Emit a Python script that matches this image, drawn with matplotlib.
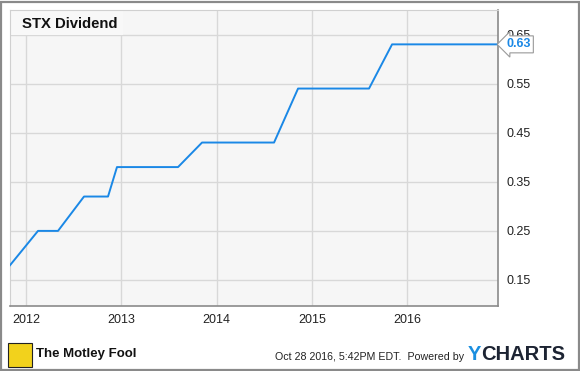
import matplotlib.pyplot as plt
from matplotlib.patches import Rectangle

plt.rcParams['font.family'] = ['Liberation Sans', 'DejaVu Sans']

# STX dividend (quarterly, USD)
years = [2011.832, 2012.126, 2012.336, 2012.609, 2012.861, 2012.955, 2013.596,
         2013.848, 2014.604, 2014.856, 2015.601, 2015.843, 2016.955]
dividend = [0.18, 0.25, 0.25, 0.32, 0.32, 0.38, 0.38,
            0.43, 0.43, 0.54, 0.54, 0.63, 0.63]
xticks = [2012, 2013, 2014, 2015, 2016]
yticks = [0.15, 0.25, 0.35, 0.45, 0.55, 0.65]

line_color = '#1a88e6'
W, H = 580, 371

fig = plt.figure(figsize=(5.8, 3.71), dpi=100)
fig.patch.set_facecolor('white')
fig.patches.append(Rectangle((1 / W, 1 / H), 1 - 2.5 / W, 1 - 2.5 / H, transform=fig.transFigure,
                             fill=False, edgecolor='#8a8a8a', linewidth=1.6))

ax = fig.add_axes([10 / W, (H - 306) / H, 488 / W, 296 / H])
ax.set_facecolor('#f6f6f6')
ax.plot(years, dividend, color=line_color, linewidth=1.4, zorder=3)

ax.set_xlim(2011.832, 2016.955)
ax.set_ylim(0.097, 0.70)
ax.set_xticks(xticks)
ax.set_xticklabels([str(y) for y in xticks])
ax.set_yticks(yticks)
ax.set_yticklabels(['%.2f' % v for v in yticks])
ax.yaxis.tick_right()
ax.tick_params(length=0, labelsize=9, colors='#222222')
ax.tick_params(axis='y', pad=6)
ax.tick_params(axis='x', pad=6)
ax.grid(True, color='#d8d8d8', linewidth=1)
ax.set_axisbelow(True)
for s in ['top', 'left']:
    ax.spines[s].set_color('#d0d0d0')
for s in ['right', 'bottom']:
    ax.spines[s].set_color('#8a8a8a')
    ax.spines[s].set_linewidth(1.2)

# title box inside plot (hides the grid under it)
ax.add_patch(Rectangle((0, 1 - 25 / 296), 113 / 488, 25 / 296, transform=ax.transAxes,
                       facecolor='#f8f8f8', edgecolor='none', zorder=2))
ax.text(12 / 488, 1 - 14 / 296, 'STX Dividend', transform=ax.transAxes, fontsize=10.7,
        fontweight='bold', color='#111111', va='center', ha='left', zorder=4)

# last value label
ax.annotate('%.2f' % dividend[-1], xy=(1.0, dividend[-1]), xycoords=('axes fraction', 'data'),
            xytext=(6, 0), textcoords='offset points', fontsize=9, fontweight='bold',
            color=line_color, va='center', ha='left', annotation_clip=False,
            bbox=dict(boxstyle='larrow,pad=0.2', facecolor='white', edgecolor='#999999', linewidth=0.8))

# footer
fig.patches.append(Rectangle((8 / W, (H - 367) / H), 24 / W, 24 / H, transform=fig.transFigure,
                             facecolor='#f2d21c', edgecolor='#222222', linewidth=0.8))
fig.text(36 / W, (H - 354) / H, 'The Motley Fool', fontsize=9.5, fontweight='bold',
         color='#111111', va='center', ha='left')
fig.text(464 / W, (H - 357) / H, 'Oct 28 2016, 5:42PM EDT.  Powered by', fontsize=7.7,
         color='#222222', va='center', ha='right')
fig.text(468 / W, (H - 355) / H, 'Y', fontsize=14.5, fontweight='bold', color='#1a8fe0',
         va='center', ha='left')
fig.text(481 / W, (H - 355) / H, 'CHARTS', fontsize=14.5, fontweight='bold', color='#1d2433',
         va='center', ha='left')

fig.savefig('out.png', dpi=100)
